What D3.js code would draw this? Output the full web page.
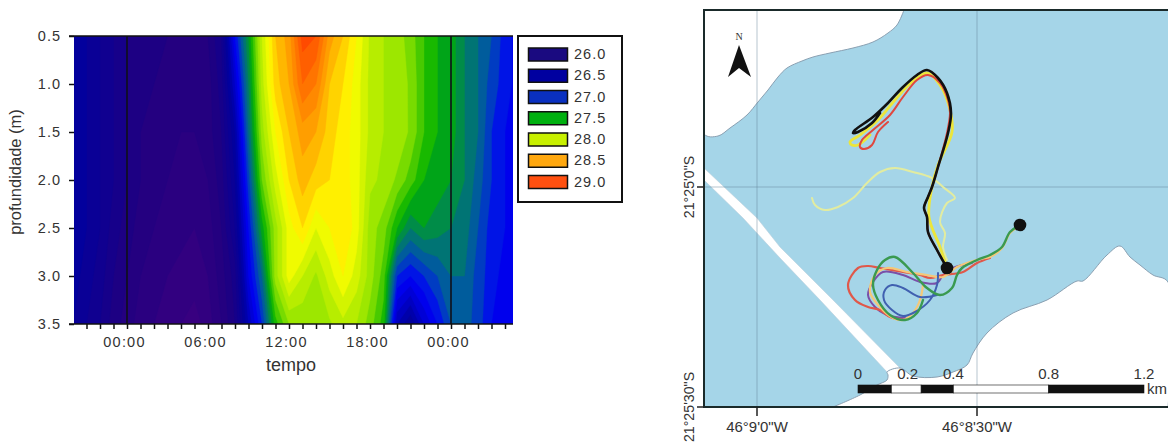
<!DOCTYPE html>
<html>
<head>
<meta charset="utf-8">
<script src="https://cdn.jsdelivr.net/npm/d3@7"></script>
<style>
html,body{margin:0;padding:0;background:#fff}
svg{display:block}
text{font-family:"Liberation Sans",Arial,sans-serif;fill:#333}
</style>
</head>
<body>
<svg id="c" width="1168" height="443"></svg>
<script>
// ---------- Temperature section ----------
const hours = d3.range(-4, 30);
const depths = [0.5, 1.0, 1.5, 2.0, 2.5, 3.0, 3.5];
const t05 = [26.45,26.4,26.3,26.2,26.1,26.05,26.0,26.0,25.95,25.95,26.0,26.2,26.9,27.4,28.0,28.4,28.55,28.95,28.9,28.55,28.4,28.2,27.98,27.9,27.85,27.75,27.6,27.5,27.45,27.3,27.2,27.1,26.95,26.85];
const t10 = [26.45,26.4,26.3,26.2,26.1,26.05,26.0,25.95,25.9,25.9,25.95,26.15,26.7,27.3,27.95,28.35,28.5,28.8,28.7,28.4,28.3,28.15,27.97,27.9,27.87,27.78,27.6,27.5,27.45,27.3,27.2,27.05,26.95,26.85];
const t15 = [26.45,26.4,26.3,26.2,26.1,26.0,25.95,25.9,25.9,25.9,25.95,26.1,26.5,27.2,27.85,28.2,28.4,28.55,28.5,28.35,28.25,28.15,27.97,27.9,27.88,27.78,27.6,27.5,27.45,27.3,27.2,27.0,26.9,26.85];
const t20 = [26.45,26.4,26.3,26.2,26.1,26.0,25.95,25.9,25.85,25.85,25.9,26.05,26.4,27.05,27.7,28.05,28.3,28.45,28.35,28.3,28.25,28.15,27.92,27.88,27.78,27.65,27.5,27.45,27.4,27.3,27.15,27.0,26.9,26.85];
const t25 = [26.45,26.4,26.3,26.15,26.05,25.95,25.9,25.85,25.85,25.8,25.85,26.0,26.3,26.9,27.45,27.85,28.15,28.3,28.1,28.2,28.3,28.15,27.85,27.75,27.5,27.3,27.4,27.35,27.3,27.25,27.1,26.95,26.9,26.85];
const t30 = [26.45,26.35,26.25,26.1,26.0,25.9,25.85,25.8,25.75,25.75,25.8,25.95,26.15,26.8,27.2,27.85,28.15,28.0,27.88,28.05,28.2,28.05,27.85,27.65,27.0,26.9,27.0,27.1,27.2,27.2,27.05,26.95,26.85,26.85];
const t35 = [26.4,26.3,26.2,26.05,25.95,25.85,25.8,25.75,25.7,25.65,25.75,25.9,26.1,26.6,27.0,27.55,27.8,27.82,27.8,27.88,27.97,27.9,27.75,27.55,26.6,26.4,26.7,26.9,27.1,27.15,27.05,26.9,26.85,26.85];
const tempRows = [t05, t10, t15, t20, t25, t30, t35];

const tickHours = d3.range(-3, 29);
const labelHours = {0:"00:00", 6:"06:00", 12:"12:00", 18:"18:00", 24:"00:00"};
const depthTicks = [0.5, 1.0, 1.5, 2.0, 2.5, 3.0, 3.5];
const midnightLines = [0, 24];

const legendLevels = ["26.0","26.5","27.0","27.5","28.0","28.5","29.0"];
const legendColors = ["#1a0a80","#0000a0","#0a30c0","#00b010","#c8f000","#ffa810","#ff5010"];
const colorStops = [25.6, 26.0, 26.5, 26.9, 27.1, 27.3, 27.5, 27.8, 28.0, 28.2, 28.5, 29.0, 29.3];
const colorValues = ["#3c0080","#200080","#0000a0","#0000f8","#0050b0","#008060","#00b000","#90e400","#c4f000","#ffff00","#ffa800","#ff4000","#ff2000"];

// ---------- Map (x,y in graticule units: 220 units = 30 arc-seconds, origin 46°9'0"W 21°25'0"S) ----------
const landNW = [[-53,-177],[-53,-53],[-39,-51],[-27,-59],[-10,-72],[1,-85],[11,-97],[21,-110],[30,-119],[45,-126],[56,-130],[73,-134],[96,-139],[116,-145],[131,-154],[140,-162],[147,-177]];
const landS = [[76,220],[103,208],[120,198],[130,193],[131,188],[130,185],[143,181],[156,189],[180,190],[196,185],[210,178],[216,166],[230,146],[256,126],[290,113],[320,94],[326,94],[350,68],[363,59],[373,70],[383,78],[396,88],[411,95],[411,220]];
const jetty = [[-53,-19],[0,31],[23,60],[76,113],[143,181],[130,185],[63,113],[23,71],[-14,31],[-53,-7]];

const trackPale = [[55,11],[58,18],[68,23],[81,20],[96,11],[110,-4],[123,-15],[138,-19],[156,-15],[175,-9],[186,0],[198,11],[190,16],[183,35],[188,46],[186,60],[190,73]];
const trackYellow = [[190,81],[183,60],[172,30],[175,0],[181,-22],[195,-55],[193,-77],[183,-102],[170,-114],[155,-105],[138,-87],[121,-67],[103,-52],[93,-45],[95,-42],[101,-42],[113,-52]];
const trackRedUp = [[190,81],[180,63],[171,45],[170,30],[167,21],[171,10],[175,0],[181,-20],[190,-54],[193,-74],[191,-87],[183,-104],[171,-112],[160,-107],[146,-90],[133,-72],[116,-57],[105,-47],[103,-40],[107,-38],[115,-42],[121,-55],[131,-65]];
const trackBlack = [[190,81],[180,63],[171,45],[170,30],[167,21],[171,10],[175,0],[181,-20],[191,-54],[194,-74],[190,-94],[181,-109],[170,-117],[160,-112],[145,-99],[131,-84],[116,-70],[98,-57],[96,-54],[101,-55],[115,-64],[123,-74]];
const trackRedLoop = [[233,71],[220,76],[206,85],[186,88],[173,91],[163,88],[146,85],[123,81],[111,79],[101,81],[91,98],[98,113],[111,120],[123,123],[133,130],[148,133]];
const trackPurple = [[215,76],[196,81],[186,88],[180,96],[163,95],[146,88],[126,85],[116,95],[111,108],[118,120],[130,128],[148,131]];
const trackOrange = [[263,39],[253,46],[245,61],[233,70],[223,72],[200,80],[186,90],[170,88],[150,85],[130,81],[118,88],[113,105],[123,120],[136,131],[146,133],[156,126],[163,113],[166,98]];
const trackBlue = [[181,86],[180,98],[173,113],[158,125],[146,129],[135,123],[127,113],[128,103],[135,98],[146,101],[163,110],[180,108]];
const trackGreen = [[263,38],[253,45],[245,60],[233,68],[220,73],[205,81],[200,88],[195,101],[183,108],[170,101],[156,86],[138,70],[128,73],[120,83],[116,98],[121,113],[133,128],[148,133],[160,126],[166,113]];
const releasePoints = [[190,81],[263,38]];

const lonLabels = [[0,"46°9'0\"W"],[220,"46°8'30\"W"]];
const latLabels = [[0,"21°25'0\"S"],[220,"21°25'30\"S"]];
const scaleStops = [0, 0.14, 0.265, 0.4, 0.8, 1.2];
const scaleLabels = ["0","0.2","0.4","0.8","1.2"];
const scaleLabelKm = [0, 0.2, 0.4, 0.8, 1.2];

// ---------- Drawing ----------
const svg = d3.select("#c");
const plot = {l:74, r:513, t:36, b:324};
const x = d3.scaleLinear().domain([-4,29]).range([73,518.5]);
const y = d3.scaleLinear().domain([0.5,3.5]).range([plot.t,plot.b]);
const color = d3.scaleLinear().domain(colorStops).range(colorValues).clamp(true);

const defs = svg.append("defs");
defs.append("clipPath").attr("id","plotClip").append("rect")
  .attr("x",plot.l).attr("y",plot.t).attr("width",plot.r-plot.l).attr("height",plot.b-plot.t);

const g = svg.append("g");
const n = hours.length, m = depths.length;
const flat = tempRows.flat();
const thresholds = d3.range(25.5, 29.35, 0.1);
const contours = d3.contours().size([n,m]).thresholds(thresholds)(flat);
const idxX = d3.scaleLinear().domain([0,n-1]).range([x(hours[0]),x(hours[n-1])]).clamp(true);
const idxY = d3.scaleLinear().domain([0,m-1]).range([y(depths[0]),y(depths[m-1])]).clamp(true);
const path = d3.geoPath(d3.geoTransform({point(a,b){this.stream.point(idxX(a-0.5),idxY(b-0.5));}}));
const field = g.append("g").attr("clip-path","url(#plotClip)");
field.append("rect").attr("x",plot.l).attr("y",plot.t).attr("width",plot.r-plot.l).attr("height",plot.b-plot.t).attr("fill",color(25.5));
field.selectAll("path").data(contours).join("path")
  .attr("d",path).attr("fill",d=>color(d.value+0.05)).attr("stroke",d=>color(d.value+0.05)).attr("stroke-width",0.4);

g.selectAll("line.mid").data(midnightLines).join("line").attr("class","mid")
  .attr("x1",d=>x(d)).attr("x2",d=>x(d)).attr("y1",plot.t).attr("y2",plot.b)
  .attr("stroke","#101018").attr("stroke-width",1.6);
g.append("line").attr("x1",plot.l-5).attr("x2",plot.r).attr("y1",plot.t).attr("y2",plot.t).attr("stroke","#111").attr("stroke-width",1.5);

const axB = d3.axisBottom(x).tickValues(tickHours).tickSize(5).tickSizeOuter(0).tickFormat(d=>labelHours[d]||"");
const gb = g.append("g").attr("transform",`translate(0,${plot.b})`).call(axB);
gb.select(".domain").attr("d",`M${plot.l-5},0H${plot.r}`).attr("stroke","#111").attr("stroke-width",1.5);
gb.selectAll("line").attr("stroke","#111").attr("stroke-width",1.5);
gb.selectAll("text").attr("font-size",14.5).attr("letter-spacing",1.2).attr("dx",-3).attr("dy",15).attr("fill","#333").attr("font-family",null);

const axL = d3.axisLeft(y).tickValues(depthTicks).tickSize(5).tickSizeOuter(0).tickFormat(d3.format(".1f"));
const gl = g.append("g").attr("transform",`translate(${plot.l},0)`).call(axL);
gl.select(".domain").remove();
gl.selectAll("line").attr("stroke","#111").attr("stroke-width",1.5);
gl.selectAll("text").attr("font-size",14.5).attr("letter-spacing",1).attr("dx",-5).attr("dy","0.28em").attr("fill","#333").attr("font-family",null);

g.append("text").attr("transform","translate(21,172) rotate(-90)").attr("text-anchor","middle").attr("font-size",16.5).text("profundidade (m)");
g.append("text").attr("x",291).attr("y",371).attr("text-anchor","middle").attr("font-size",18).text("tempo");

const leg = g.append("g");
leg.append("rect").attr("x",518).attr("y",36).attr("width",104).attr("height",166).attr("fill","#fff").attr("stroke","#111").attr("stroke-width",2);
const legY = d3.scalePoint().domain(legendLevels).range([54.5,182]);
leg.selectAll("rect.s").data(legendLevels).join("rect").attr("class","s")
  .attr("x",528.5).attr("y",d=>legY(d)-6.5).attr("width",39).attr("height",13)
  .attr("fill",(d,i)=>legendColors[i]).attr("stroke","#111").attr("stroke-width",1.5);
leg.selectAll("text").data(legendLevels).join("text")
  .attr("x",574).attr("y",d=>legY(d)+4.5).attr("font-size",14.5).attr("letter-spacing",1).text(d=>d);

// Map
const mx = d3.scaleLinear().domain([0,220]).range([757,977]);
const my = d3.scaleLinear().domain([0,220]).range([187,407]);
const frame = {l:704, r:1168, t:10, b:407};
defs.append("clipPath").attr("id","mapClip").append("rect")
  .attr("x",frame.l).attr("y",frame.t).attr("width",frame.r-frame.l).attr("height",frame.b-frame.t);
const map = svg.append("g");
const inner = map.append("g").attr("clip-path","url(#mapClip)");
inner.append("rect").attr("x",frame.l).attr("y",frame.t).attr("width",frame.r-frame.l).attr("height",frame.b-frame.t).attr("fill","#a5d5e8");
const poly = d3.line().x(d=>mx(d[0])).y(d=>my(d[1]));
const coast = d3.line().x(d=>mx(d[0])).y(d=>my(d[1])).curve(d3.curveCatmullRom.alpha(0.5));
inner.append("path").attr("d",poly(jetty)+"Z").attr("fill","#fff").attr("stroke","#b9cfdc").attr("stroke-width",.6);
[landNW, landS].forEach(p=>{
  inner.append("path").attr("d",coast(p)+"Z").attr("fill","#fff").attr("stroke","#8aa0b2").attr("stroke-width",1);
});
// graticule
lonLabels.forEach(([v])=>inner.append("line").attr("x1",mx(v)).attr("x2",mx(v)).attr("y1",frame.t).attr("y2",frame.b).attr("stroke","#5f7f92").attr("stroke-opacity",.45).attr("stroke-width",1));
inner.append("line").attr("x1",frame.l).attr("x2",frame.r).attr("y1",my(0)).attr("y2",my(0)).attr("stroke","#5f7f92").attr("stroke-opacity",.45).attr("stroke-width",1);

// tracks
const curve = d3.line().x(d=>mx(d[0])).y(d=>my(d[1])).curve(d3.curveCatmullRom.alpha(0.5));
const tracks = [
  [trackPale,"#e2eca0",2],[trackYellow,"#ece63a",2.8],[trackRedUp,"#e0483f",2],
  [trackPurple,"#7a4fa8",2],[trackRedLoop,"#e0584a",2.2],[trackOrange,"#f5c878",2.2],
  [trackBlue,"#4060b0",2],[trackGreen,"#3a9a50",2.4],[trackBlack,"#111",2.6]
];
tracks.forEach(([p,c,w])=>inner.append("path").attr("d",curve(p)).attr("fill","none").attr("stroke",c).attr("stroke-width",w).attr("stroke-linecap","round").attr("stroke-linejoin","round"));
inner.selectAll("circle").data(releasePoints).join("circle")
  .attr("cx",d=>mx(d[0])).attr("cy",d=>my(d[1])).attr("r",6.3).attr("fill","#111");

// frame
map.append("path").attr("d",`M${frame.r},${frame.t}H${frame.l}V${frame.b}H${frame.r}`).attr("fill","none").attr("stroke","#1a2a2a").attr("stroke-width",2);

// ticks and labels
lonLabels.forEach(([v,t])=>{
  map.append("line").attr("x1",mx(v)).attr("x2",mx(v)).attr("y1",frame.b).attr("y2",frame.b+9).attr("stroke","#222").attr("stroke-width",1.5);
  map.append("text").attr("x",mx(v)).attr("y",432).attr("text-anchor","middle").attr("font-size",15).text(t);
});
latLabels.forEach(([v,t])=>{
  map.append("line").attr("x1",frame.l-7).attr("x2",frame.l).attr("y1",my(v)).attr("y2",my(v)).attr("stroke","#222").attr("stroke-width",1.5);
  map.append("text").attr("transform",`translate(694,${my(v)}) rotate(-90)`).attr("text-anchor","middle").attr("font-size",14.2).text(t);
});

// north arrow
const na = map.append("g");
na.append("path").attr("d","M739,45L728,77L739,68L751,77Z").attr("fill","#111");
na.append("text").attr("x",739).attr("y",39.5).attr("text-anchor","middle").attr("font-size",10).style("font-family","'Liberation Serif',serif").text("N");

// scale bar
const km = d3.scaleLinear().domain([0,1.2]).range([858,1144]);
const sb = map.append("g");
d3.pairs(scaleStops).forEach(([a,b],i)=>{
  sb.append("rect").attr("x",km(a)).attr("y",385).attr("width",km(b)-km(a)).attr("height",8)
    .attr("fill",i%2?"#fff":"#111").attr("stroke","#111").attr("stroke-width",.6);
});
scaleLabelKm.forEach((v,i)=>sb.append("text").attr("x",km(v)+(v===0.2?2:0)).attr("y",379).attr("text-anchor","middle").attr("font-size",15).text(scaleLabels[i]));
sb.append("text").attr("x",1147).attr("y",394).attr("font-size",15).text("km");
</script>
</body>
</html>
